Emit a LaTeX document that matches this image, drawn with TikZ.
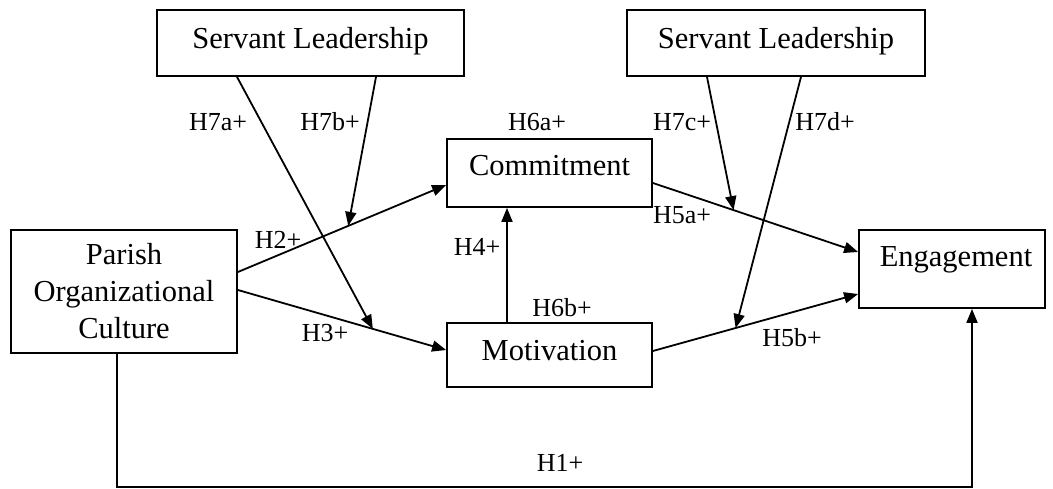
\documentclass[tikz,border=0pt]{standalone}
\usepackage{fontspec}
\setmainfont{Liberation Serif}
\usetikzlibrary{arrows.meta,calc}
\begin{document}
\begin{tikzpicture}[x=1pt,y=-1pt,
  box/.style={draw, line width=1.8pt, inner sep=0pt, align=center,
    font=\fontsize{30.5}{37}\selectfont},
  oneline/.style={text height=20pt, text depth=#1},
  hyp/.style={font=\fontsize{26}{30}\selectfont, inner sep=0pt},
  link/.style={line width=1.8pt, -{Triangle[length=14pt,width=11pt]}},
  plain/.style={line width=1.8pt}]
\useasboundingbox (0,0) rectangle (1053,489);

% constructs
\node[box, oneline=9pt,  minimum width=307pt, minimum height=66pt] (sl1) at (310.5,43) {Servant Leadership};
\node[box, oneline=9pt,  minimum width=298pt, minimum height=66pt] (sl2) at (776,43)   {Servant Leadership};
\node[box, oneline=14pt, minimum width=205pt, minimum height=68pt] (com) at (549.5,173) {Commitment};
\node[box, oneline=10pt, minimum width=205pt, minimum height=64pt] (mot) at (549.5,355) {Motivation};
\node[box, minimum width=226pt, minimum height=123pt] (poc) at (124,291.5) {Parish\\Organizational\\Culture};
\node[box, oneline=24pt, minimum width=186pt, minimum height=78pt] (eng) at (952,269) {\hspace*{8pt}Engagement};

% end points of the direct paths
\coordinate (h2s) at (poc.east |- 0,272);
\coordinate (h2e) at (com.west |- 0,185);
\coordinate (h3s) at (poc.east |- 0,290);
\coordinate (h3e) at (mot.west |- 0,350);
\coordinate (h5as) at (com.east |- 0,183);
\coordinate (h5ae) at (eng.west |- 0,252);
\coordinate (h5bs) at (mot.east |- 0,351);
\coordinate (h5be) at (eng.west |- 0,294);

% points where the moderator arrows meet the paths
\coordinate (m2)  at ($(h2s)!0.53!(h2e)$);
\coordinate (m3)  at ($(h3s)!0.648!(h3e)$);
\coordinate (m5a) at ($(h5as)!0.393!(h5ae)$);
\coordinate (m5b) at ($(h5bs)!0.403!(h5be)$);

% direct paths
\draw[link] (h2s) -- (h2e);
\draw[link] (h3s) -- (h3e);
\draw[link] (h5as) -- (h5ae);
\draw[link] (h5bs) -- (h5be);
\draw[link] (mot.north -| 507,0) -- (com.south -| 507,0);
\coordinate (h1c) at (972,487);
\draw[link] (poc.south -| 117,0) |- (h1c) -- (eng.south -| h1c);

% moderating paths
\draw[link] (sl1.south -| 237,0) -- (m3);
\draw[link] (sl1.south -| 376,0) -- (m2);
\draw[link] (sl2.south -| 707,0) -- (m5a);
\draw[link] (sl2.south -| 801,0) -- (m5b);

% hypothesis labels
\node[hyp] (l7a) at (218,122) {H7a+};
\node[hyp] (l7b) at (330,122) {H7b+};
\node[hyp] (l6a) at (537,122) {H6a+};
\node[hyp] (l7c) at (682,122) {H7c+};
\node[hyp] (l7d) at (825,122) {H7d+};
\node[hyp] (l2)  at (278,240) {H2+};
\node[hyp] (l4)  at (477,247) {H4+};
\node[hyp] (l3)  at (325,333) {H3+};
\node[hyp] (l5a) at (682,215) {H5a+};
\node[hyp] (l6b) at (562,308) {H6b+};
\node[hyp] (l5b) at (792,338) {H5b+};
\node[hyp] (l1)  at (560,463) {H1+};
\end{tikzpicture}
\end{document}
